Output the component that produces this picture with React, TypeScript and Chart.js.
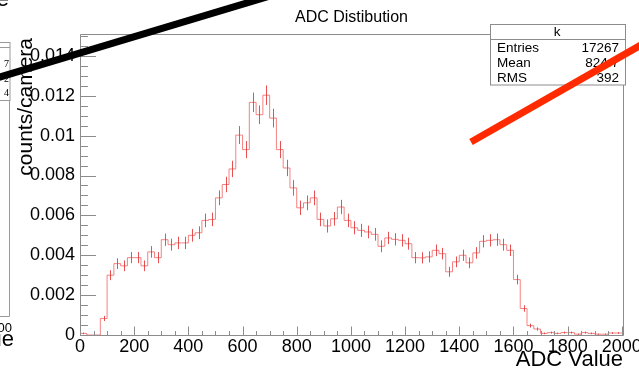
import React, { useEffect, useRef } from "react";
import { Chart, registerables } from "chart.js";

Chart.register(...registerables);

// ---- data ----
const binEdges = [
  0, 25, 50, 75, 100, 125, 150, 175, 200, 225, 250, 275, 300, 325, 350, 375, 400, 425, 450, 475,
  500, 525, 550, 575, 600, 625, 650, 675, 700, 725, 750, 775, 800, 825, 850, 875, 900, 925, 950, 975,
  1000, 1025, 1050, 1075, 1100, 1125, 1150, 1175, 1200, 1225, 1250, 1275, 1300, 1325, 1350, 1375,
  1400, 1425, 1450, 1475, 1500, 1525, 1550, 1575, 1600, 1625, 1650, 1675, 1700, 1725, 1750, 1775,
  1800, 1825, 1850, 1875, 1900, 1925, 1950, 1975, 2000,
];

const binValues = [
  0.00008, 0, 0, 0.00083, 0.003, 0.00358, 0.00347, 0.00388, 0.00388, 0.00347,
  0.00417, 0.00388, 0.00478, 0.00453, 0.00462, 0.00462, 0.005, 0.00513, 0.00575, 0.0058,
  0.00688, 0.00755, 0.00833, 0.01003, 0.0093, 0.01167, 0.01105, 0.01203, 0.01088, 0.0093,
  0.00838, 0.00738, 0.00638, 0.00663, 0.00688, 0.0058, 0.00547, 0.00583, 0.00642, 0.00575,
  0.00538, 0.00525, 0.00517, 0.00505, 0.00445, 0.00487, 0.0048, 0.00475, 0.00458, 0.00388,
  0.00387, 0.00392, 0.00425, 0.00408, 0.00317, 0.00367, 0.004, 0.00362, 0.00412, 0.0047,
  0.00475, 0.00478, 0.00453, 0.00425, 0.00278, 0.00133, 0.00047, 0.0003, 0.00008, 0.00012,
  0.00008, 0.00012, 0.00012, 0.00004, 0.00012, 0.00008, 0.00004, 0.00004, 0.0001, 0.0001,
];

const binErrors = [
  0.00004, 0, 0, 0.00013, 0.00025, 0.00027, 0.00027, 0.00028, 0.00028, 0.00027,
  0.00029, 0.00028, 0.00031, 0.0003, 0.00031, 0.00031, 0.00032, 0.00032, 0.00034, 0.00034,
  0.00037, 0.00039, 0.00041, 0.00045, 0.00043, 0.00049, 0.00047, 0.00049, 0.00047, 0.00043,
  0.00041, 0.00039, 0.00036, 0.00037, 0.00037, 0.00034, 0.00033, 0.00034, 0.00036, 0.00034,
  0.00033, 0.00033, 0.00032, 0.00032, 0.0003, 0.00031, 0.00031, 0.00031, 0.0003, 0.00028,
  0.00028, 0.00028, 0.00029, 0.00029, 0.00025, 0.00027, 0.00028, 0.00027, 0.00029, 0.00031,
  0.00031, 0.00031, 0.0003, 0.00029, 0.00024, 0.00016, 0.0001, 0.00008, 0.00004, 0.00005,
  0.00004, 0.00005, 0.00005, 0.00003, 0.00005, 0.00004, 0.00003, 0.00003, 0.00004, 0.00004,
];

const xTickValues = [0, 200, 400, 600, 800, 1000, 1200, 1400, 1600, 1800, 2000];
const yTickValues = [0, 0.002, 0.004, 0.006, 0.008, 0.01, 0.012, 0.014];
const yTickLabels = ["0", "0.002", "0.004", "0.006", "0.008", "0.01", "0.012", "0.014"];

const chartTitle = "ADC Distibution";
const xTitle = "ADC Value";
const yTitle = "counts/camera";
const statsName = "k";
const statsLabels = ["Entries", "Mean", "RMS"];
const statsValues = ["17267", "824.7", "392"];

const FONT = '"Liberation Sans", Arial, Helvetica, sans-serif';

const rootPlugin = {
  id: "rootDecor",
  afterDatasetsDraw(chart: any) {
    const { ctx } = chart;
    const x = chart.scales.x;
    const y = chart.scales.y;
    ctx.save();
    ctx.strokeStyle = "rgba(228,50,50,0.85)";
    ctx.lineWidth = 1;
    binValues.forEach((v, i) => {
      if (v <= 0) return;
      const cx = Math.round(x.getPixelForValue((binEdges[i] + binEdges[i + 1]) / 2)) + 0.5;
      const y1 = y.getPixelForValue(v - binErrors[i]);
      const y2 = y.getPixelForValue(v + binErrors[i]);
      ctx.beginPath();
      ctx.moveTo(cx, y1);
      ctx.lineTo(cx, y2);
      ctx.stroke();
    });
    ctx.restore();
  },
  afterDraw(chart: any) {
    const { ctx, chartArea: ca } = chart;
    const x = chart.scales.x;
    const y = chart.scales.y;
    ctx.save();
    // frame
    ctx.strokeStyle = "#8c8c8c";
    ctx.lineWidth = 1;
    ctx.beginPath();
    ctx.rect(ca.left + 0.5, ca.top + 0.5, ca.right - ca.left - 1, ca.bottom - ca.top);
    ctx.stroke();
    // ticks
    ctx.beginPath();
    for (let v = 0; v <= 2000; v += 50) {
      const px = Math.round(x.getPixelForValue(v)) + 0.5;
      const len = v % 200 === 0 ? 9 : 4.5;
      ctx.moveTo(px, ca.bottom + 0.5);
      ctx.lineTo(px, ca.bottom + 0.5 - len);
    }
    for (let i = 0; i <= 40; i++) {
      const v = i * 0.0005;
      if (v > y.max) break;
      const py = Math.round(y.getPixelForValue(v)) + 0.5;
      const len = i % 4 === 0 ? 16 : 8;
      ctx.moveTo(ca.left, py);
      ctx.lineTo(ca.left + len, py);
    }
    ctx.stroke();

    ctx.fillStyle = "#000";
    // title
    ctx.font = `16px ${FONT}`;
    ctx.textAlign = "center";
    ctx.textBaseline = "alphabetic";
    ctx.fillText(chartTitle, 351.5, 22);
    // x title
    ctx.font = `22px ${FONT}`;
    ctx.textAlign = "right";
    ctx.fillText(xTitle, 623, 366);
    // y title
    ctx.save();
    ctx.translate(32, 38);
    ctx.rotate(-Math.PI / 2);
    ctx.font = `21px ${FONT}`;
    ctx.textAlign = "right";
    ctx.fillText(yTitle, 0, 0);
    ctx.restore();

    // stats box
    ctx.fillStyle = "#fff";
    ctx.fillRect(490.5, 24.5, 135, 60.5);
    ctx.strokeStyle = "#8c8c8c";
    ctx.strokeRect(490.5, 24.5, 135, 60.5);
    ctx.beginPath();
    ctx.moveTo(490.5, 39.5);
    ctx.lineTo(625.5, 39.5);
    ctx.stroke();
    ctx.fillStyle = "#000";
    ctx.font = `13.5px ${FONT}`;
    ctx.textAlign = "center";
    ctx.fillText(statsName, 557, 36);
    const rowY = [52.3, 66.7, 81.5];
    statsLabels.forEach((lab, i) => {
      ctx.textAlign = "left";
      ctx.fillText(lab, 497, rowY[i]);
      ctx.textAlign = "right";
      ctx.fillText(statsValues[i], 619, rowY[i]);
    });

    // remnants of neighbouring pad on the left
    ctx.fillStyle = "#fff";
    ctx.fillRect(-2, 42.5, 12, 58);
    ctx.strokeStyle = "#9a9a9a";
    ctx.strokeRect(-2, 42.5, 12, 58);
    ctx.beginPath();
    ctx.moveTo(-2, 47.5);
    ctx.lineTo(10, 47.5);
    ctx.moveTo(9.5, 100.5);
    ctx.lineTo(9.5, 316.5);
    ctx.lineTo(-2, 316.5);
    ctx.stroke();
    ctx.fillStyle = "#000";
    ctx.font = `10px "Liberation Serif", serif`;
    ctx.textAlign = "right";
    ctx.fillText("7", 9, 67);
    ctx.fillText("2", 9, 82);
    ctx.fillText("4", 9, 96);
    ctx.font = `13px ${FONT}`;
    ctx.fillText("2000", 12, 332);
    ctx.font = `22px ${FONT}`;
    ctx.fillText(xTitle, 14, 346);
    ctx.fillText("e", 9, 6);

    // overlay strokes
    ctx.lineCap = "butt";
    ctx.strokeStyle = "#000";
    ctx.lineWidth = 7;
    ctx.beginPath();
    ctx.moveTo(-10, 80);
    ctx.lineTo(270, -4);
    ctx.stroke();
    ctx.strokeStyle = "#ff2a00";
    ctx.lineWidth = 7;
    ctx.beginPath();
    ctx.moveTo(471, 142);
    ctx.lineTo(648, 41);
    ctx.stroke();
    ctx.restore();
  },
};

export default function App() {
  const ref = useRef<HTMLCanvasElement>(null);
  useEffect(() => {
    if (!ref.current) return;
    Chart.defaults.font.family = FONT;
    const stepData = binEdges.map((e, i) => ({
      x: e,
      y: i < binValues.length ? binValues[i] : binValues[binValues.length - 1],
    }));
    const chart = new Chart(ref.current, {
      type: "line",
      data: {
        datasets: [
          {
            data: stepData,
            stepped: "before",
            borderColor: "rgba(240,100,100,0.8)",
            borderWidth: 1,
            pointRadius: 0,
            fill: false,
          },
        ],
      },
      options: {
        responsive: false,
        animation: false,
        events: [],
        layout: { padding: { top: 34, right: 15, left: 0, bottom: 0 } },
        plugins: { legend: { display: false }, tooltip: { enabled: false }, title: { display: false } },
        scales: {
          x: {
            type: "linear",
            min: 0,
            max: 2008,
            grid: { display: false, drawTicks: false },
            border: { display: false },
            ticks: {
              color: "#000",
              font: { size: 18 },
              padding: 1,
              autoSkip: false,
              maxRotation: 0,
              callback: (v: any) => String(v),
            },
            afterBuildTicks: (s: any) => {
              s.ticks = xTickValues.map((v) => ({ value: v }));
            },
            afterFit: (s: any) => {
              s.height = 35;
              s.paddingLeft = 0;
              s.paddingRight = 0;
            },
          },
          y: {
            type: "linear",
            min: 0,
            max: 0.0151,
            grid: { display: false, drawTicks: false },
            border: { display: false },
            ticks: {
              color: "#000",
              font: { size: 18 },
              padding: 5,
              autoSkip: false,
              callback: (v: any) => {
                const i = yTickValues.findIndex((t) => Math.abs(t - v) < 1e-9);
                return i >= 0 ? yTickLabels[i] : "";
              },
            },
            afterBuildTicks: (s: any) => {
              s.ticks = yTickValues.map((v) => ({ value: v }));
            },
            afterFit: (s: any) => {
              s.width = 80;
              s.paddingTop = 0;
              s.paddingBottom = 0;
            },
          },
        },
      },
      plugins: [rootPlugin],
    });
    return () => chart.destroy();
  }, []);
  return (
    <div style={{ position: "fixed", left: 0, top: 0, width: 639, height: 370, background: "#fff" }}>
      <canvas ref={ref} width={639} height={370} style={{ display: "block" }} />
    </div>
  );
}
